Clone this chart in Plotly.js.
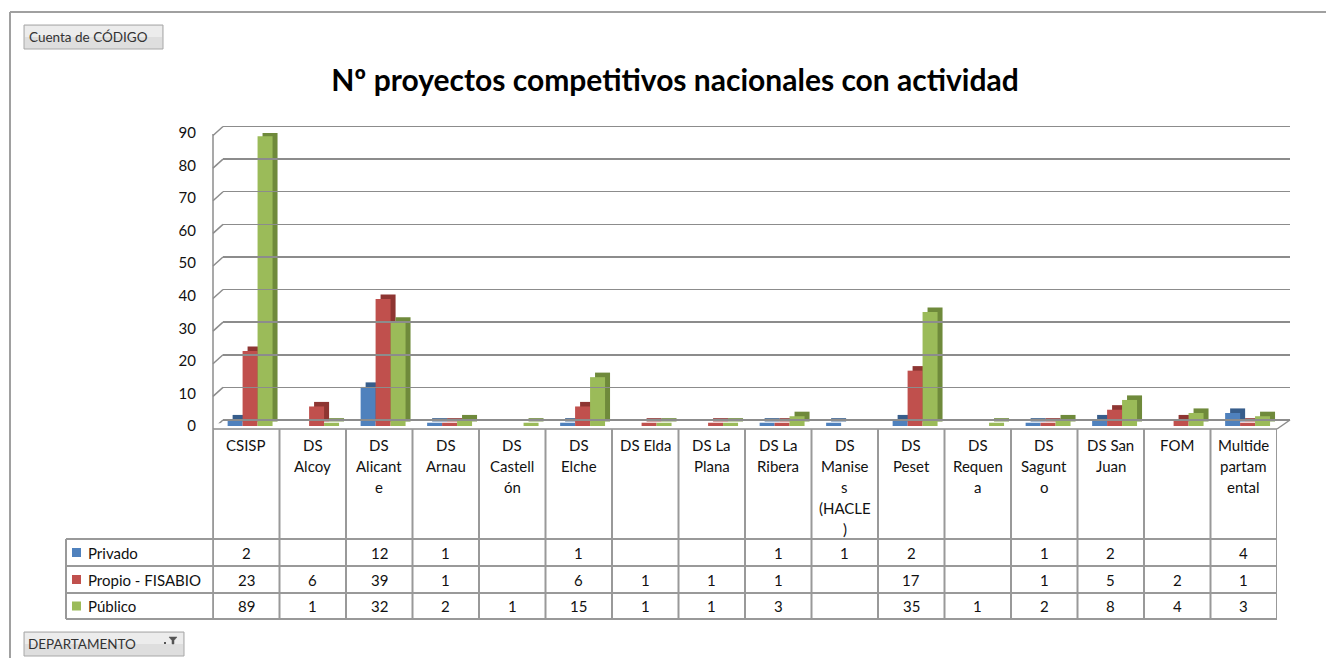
<!DOCTYPE html>
<html><head><meta charset="utf-8">
<script src="https://cdn.plot.ly/plotly-3.0.1.min.js"></script>
<style>html,body{margin:0;padding:0;background:#fff;}#chart{width:1326px;height:658px;}</style>
</head><body><div id="chart"></div>
<script>
// ---- DATA ----
const categories = ['CSISP','DS Alcoy','DS Alicante','DS Arnau','DS Castellón','DS Elche','DS Elda','DS La Plana','DS La Ribera','DS Manises (HACLE)','DS Peset','DS Requena','DS Sagunto','DS San Juan','FOM','Multidepartamental'];
const tickLabels = ['CSISP','DS<br>Alcoy','DS<br>Alicant<br>e','DS<br>Arnau','DS<br>Castell<br>ón','DS<br>Elche','DS Elda','DS La<br>Plana','DS La<br>Ribera','DS<br>Manise<br>s<br>(HACLE<br>)','DS<br>Peset','DS<br>Requen<br>a','DS<br>Sagunt<br>o','DS San<br>Juan','FOM','Multide<br>partam<br>ental'];
const privado = [2,null,12,1,null,1,null,null,1,1,2,null,1,2,null,4];
const propio  = [23,6,39,1,null,6,1,1,1,null,17,null,1,5,2,1];
const publico = [89,1,32,2,1,15,1,1,3,null,35,1,2,8,4,3];
const seriesNames = ['Privado','Propio - FISABIO','Público'];
const yTicks = [0,10,20,30,40,50,60,70,80,90];
const chartTitle = 'Nº proyectos competitivos nacionales con actividad';
const fieldButton = 'Cuenta de CÓDIGO';
const axisButton = 'DEPARTAMENTO';

// ---- STYLE ----
const W = 1326, H = 658;
const px = x => x / W;
const py = y => 1 - y / H;
const FONT = 'Lato, "Noto Sans", sans-serif';
const TXT = 15;
const frontColors = ['#4F81BD','#C0504D','#9BBB59'];
const sideColors  = ['#375D8B','#8E3532','#6F8A3B'];
const seriesVals = [privado, propio, publico];
const offsets = [-0.28, -0.055, 0.17];
const barW = 0.2256;
const depthX = 0.075;   // category units
const depthY = 1.4;     // value units
const gridColor = '#8c8c8c';

const traces = [];
seriesVals.forEach((vals, s) => {
  traces.push({type:'bar', x: categories, y: vals, base: depthY,
    offset: offsets[s] + depthX, width: barW,
    marker:{color: sideColors[s], line:{width:0}},
    showlegend:false, hoverinfo:'skip', xaxis:'x', yaxis:'y'});
});
seriesVals.forEach((vals, s) => {
  traces.push({type:'bar', name: seriesNames[s], x: categories, y: vals,
    offset: offsets[s], width: barW,
    marker:{color: frontColors[s], line:{width:0}},
    showlegend:false, xaxis:'x', yaxis:'y'});
});
traces.push({type:'scatter', x:[0,1], y:[0,0], mode:'none', xaxis:'x2', yaxis:'y2', showlegend:false, hoverinfo:'skip'});

const shapes = [];
const lineC = '#999999';
function L(x0,y0,x1,y1,color,width){
  shapes.push({type:'line', xref:'paper', yref:'paper', x0:px(x0), y0:py(y0), x1:px(x1), y1:py(y1), line:{color:color||lineC, width:width||1.5}, layer:'above'});
}
L(10,12,1326,12,'#a0a0a0',2);
L(10,12,10,658,'#a0a0a0',2);
const pxPerUnitBack = (420-126.5)/90;
yTicks.forEach(v => {
  shapes.push({type:'line', xref:'paper', yref:'y2', x0:px(213), x1:px(223),
    y0: v - 9/pxPerUnitBack, y1: v, line:{color:gridColor, width:1.5}});
});
L(213,134,213,619,gridColor,1.5);
L(213,429,1277,429,gridColor,1.5);
L(1277,429,1290,420,gridColor,1.5);
for (let i = 0; i <= categories.length; i++) {
  shapes.push({type:'line', xref:'x', yref:'paper', x0: i-0.5, x1: i-0.5, y0: py(429), y1: py(619),
    line:{color:lineC, width:2}});
}
[539, 566, 593, 619].forEach(y => L(66, y, 1277, y, lineC, 2));
L(66,539,66,619,lineC,2);

const rowY = [552.5, 579.5, 606];
const annotations = [];
seriesNames.forEach((n, s) => {
  shapes.push({type:'rect', xref:'paper', yref:'paper', x0:px(72), x1:px(81), y0:py(rowY[s]-4.5), y1:py(rowY[s]+4.5),
    fillcolor: frontColors[s], line:{width:0}});
  annotations.push({xref:'paper', yref:'paper', x:px(86), y:py(rowY[s]), xanchor:'left', yanchor:'middle',
    text:n, showarrow:false, font:{family:FONT, size:TXT, color:'#111'}});
});
seriesVals.forEach((vals, s) => {
  vals.forEach((v, i) => {
    if (v === null) return;
    annotations.push({xref:'x', yref:'paper', x: categories[i], y: py(rowY[s]), xanchor:'center', yanchor:'middle',
      text: String(v), showarrow:false, font:{family:FONT, size:TXT, color:'#111'}});
  });
});
tickLabels.forEach((lab, i) => {
  lab.split('<br>').forEach((ln, k) => {
    annotations.push({xref:'x', yref:'paper', x: categories[i], y: py(445 + 21*k), xanchor:'center', yanchor:'middle',
      text: ln, showarrow:false, font:{family:FONT, size:TXT, color:'#111'}});
  });
});
function button(x0,y0,x1,y1){
  shapes.push({type:'rect', xref:'paper', yref:'paper', x0:px(x0), x1:px(x1), y0:py(y0), y1:py(y1),
    fillcolor:'#dedede', line:{color:'#a8a8a8', width:1}});
  shapes.push({type:'rect', xref:'paper', yref:'paper', x0:px(x0+1), x1:px(x1-1), y0:py(y0+1), y1:py((y0+y1)/2),
    fillcolor:'#ececec', line:{width:0}});
}
button(24,25,163,49);
button(24,632,184,656);
annotations.push({xref:'paper', yref:'paper', x:px(27), y:py(37), xanchor:'left', yanchor:'middle',
  text: fieldButton, showarrow:false, font:{family:FONT, size:13.5, color:'#333'}});
annotations.push({xref:'paper', yref:'paper', x:px(26), y:py(644), xanchor:'left', yanchor:'middle',
  text: axisButton, showarrow:false, font:{family:FONT, size:13.5, color:'#333'}});
const fp = (x,y) => px(x).toFixed(5)+','+py(y).toFixed(5);
shapes.push({type:'path', xref:'paper', yref:'paper',
  path:'M'+fp(169,637)+' L'+fp(177,637)+' L'+fp(174,640.5)+' L'+fp(174,644)+' L'+fp(172,644)+' L'+fp(172,640.5)+' Z',
  fillcolor:'#555', line:{color:'#555', width:0.5}});
shapes.push({type:'rect', xref:'paper', yref:'paper', x0:px(164), x1:px(166), y0:py(642), y1:py(644), fillcolor:'#555', line:{width:0}});

const layout = {
  width: W, height: H,
  margin:{l:0,r:0,t:0,b:0},
  paper_bgcolor:'#ffffff', plot_bgcolor:'rgba(0,0,0,0)',
  barmode:'overlay',
  showlegend:false,
  hovermode:false,
  title:{text:'<b>'+chartTitle+'</b>', x:px(675), xanchor:'center', xref:'paper', y:py(80), yref:'paper', yanchor:'middle',
    font:{family:FONT, size:30, color:'#000'}},
  xaxis:{domain:[px(213), px(1277)], type:'category', categoryarray:categories, range:[-0.5, categories.length-0.5],
    showticklabels:false, showgrid:false, zeroline:false, showline:false, ticks:'', anchor:'y'},
  yaxis:{domain:[py(426), py(133)], range:[0,90], tickvals:yTicks, ticks:'', showgrid:false, zeroline:false, showline:false,
    ticklabelstandoff:16, tickfont:{family:FONT, size:15, color:'#111'}, anchor:'x'},
  xaxis2:{domain:[px(223), px(1290)], range:[0,1], visible:false, anchor:'y2'},
  yaxis2:{domain:[py(420 + pxPerUnitBack), py(126.5 - pxPerUnitBack)], range:[-1,91], tickvals:yTicks, showticklabels:false, ticks:'',
    showgrid:true, gridcolor:gridColor, gridwidth:1.5, zeroline:false, showline:false, anchor:'x2'},
  shapes: shapes,
  annotations: annotations
};
Plotly.newPlot('chart', traces, layout, {staticPlot:true, displayModeBar:false});
</script>
</body></html>
